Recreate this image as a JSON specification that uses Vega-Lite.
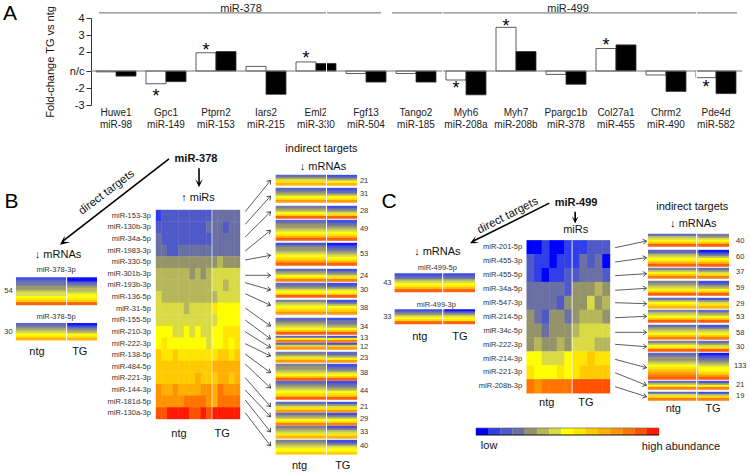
{"$schema":"https://vega.github.io/schema/vega-lite/v6.json","padding":0,"spacing":0,"bounds":"flush","config":{"font":"Liberation Sans","view":{"stroke":null},"axis":{"grid":false},"legend":{"disable":true}},
"datasets":{
"one":[{"k":1}],
"cols":[{"c":"n","a":0,"b":10},{"c":"T","a":10,"b":16}],
"bars":[{"g":"Huwe1|miR-98","s":"ntg","v":-0.1},{"g":"Huwe1|miR-98","s":"TG","v":-0.6},{"g":"Gpc1|miR-149","s":"ntg","v":-1.5},{"g":"Gpc1|miR-149","s":"TG","v":-1.25},{"g":"Ptprn2|miR-153","s":"ntg","v":1.87},{"g":"Ptprn2|miR-153","s":"TG","v":2},{"g":"Iars2|miR-215","s":"ntg","v":0.47},{"g":"Iars2|miR-215","s":"TG","v":-2.37},{"g":"Eml2|miR-330","s":"ntg","v":0.93},{"g":"Eml2|miR-330","s":"TG","v":0.77},{"g":"Fgf13|miR-504","s":"ntg","v":-0.3},{"g":"Fgf13|miR-504","s":"TG","v":-1.3},{"g":"Tango2|miR-185","s":"ntg","v":-0.3},{"g":"Tango2|miR-185","s":"TG","v":-1.3},{"g":"Myh6|miR-208a","s":"ntg","v":-1.06},{"g":"Myh6|miR-208a","s":"TG","v":-2.4},{"g":"Myh7|miR-208b","s":"ntg","v":3.45},{"g":"Myh7|miR-208b","s":"TG","v":2},{"g":"Ppargc1b|miR-378","s":"ntg","v":-0.4},{"g":"Ppargc1b|miR-378","s":"TG","v":-1.56},{"g":"Col27a1|miR-455","s":"ntg","v":2.18},{"g":"Col27a1|miR-455","s":"TG","v":2.4},{"g":"Chrm2|miR-490","s":"ntg","v":-0.47},{"g":"Chrm2|miR-490","s":"TG","v":-2.2},{"g":"Pde4d|miR-582","s":"ntg","v":-0.78},{"g":"Pde4d|miR-582","s":"TG","v":-2.33}],
"stars":[{"g":"Gpc1|miR-149","y":-2.35},{"g":"Ptprn2|miR-153","y":2.25},{"g":"Eml2|miR-330","y":1.57},{"g":"Myh6|miR-208a","y":-1.76},{"g":"Myh7|miR-208b","y":3.7},{"g":"Col27a1|miR-455","y":2.54},{"g":"Pde4d|miR-582","y":-1.53}],
"scale15":[{"v":0},{"v":1},{"v":2},{"v":3},{"v":4},{"v":5},{"v":6},{"v":7},{"v":8},{"v":9},{"v":10},{"v":11},{"v":12},{"v":13},{"v":14}],
"bl":[{"r":0,"c":"n","v":1},{"r":1,"c":"n","v":2},{"r":2,"c":"n","v":3},{"r":3,"c":"n","v":3},{"r":4,"c":"n","v":4},{"r":5,"c":"n","v":4},{"r":6,"c":"n","v":5},{"r":7,"c":"n","v":6},{"r":8,"c":"n","v":6},{"r":9,"c":"n","v":7},{"r":10,"c":"n","v":8},{"r":11,"c":"n","v":9},{"r":12,"c":"n","v":13},{"r":0,"c":"T","v":0},{"r":1,"c":"T","v":0},{"r":2,"c":"T","v":2},{"r":3,"c":"T","v":3},{"r":4,"c":"T","v":4},{"r":5,"c":"T","v":5},{"r":6,"c":"T","v":5},{"r":7,"c":"T","v":6},{"r":8,"c":"T","v":7},{"r":9,"c":"T","v":7},{"r":10,"c":"T","v":8},{"r":11,"c":"T","v":9},{"r":12,"c":"T","v":13},{"r":22,"c":"n","v":2},{"r":23,"c":"n","v":3},{"r":24,"c":"n","v":4},{"r":25,"c":"n","v":5},{"r":26,"c":"n","v":6},{"r":27,"c":"n","v":7},{"r":28,"c":"n","v":8},{"r":29,"c":"n","v":10},{"r":22,"c":"T","v":0},{"r":23,"c":"T","v":1},{"r":24,"c":"T","v":3},{"r":25,"c":"T","v":4},{"r":26,"c":"T","v":5},{"r":27,"c":"T","v":7},{"r":28,"c":"T","v":8},{"r":29,"c":"T","v":10}],
"cl":[{"r":0,"c":"n","v":1},{"r":1,"c":"n","v":2},{"r":2,"c":"n","v":3},{"r":3,"c":"n","v":5},{"r":4,"c":"n","v":6},{"r":5,"c":"n","v":7},{"r":6,"c":"n","v":8},{"r":7,"c":"n","v":10},{"r":8,"c":"n","v":13},{"r":0,"c":"T","v":1},{"r":1,"c":"T","v":2},{"r":2,"c":"T","v":3},{"r":3,"c":"T","v":5},{"r":4,"c":"T","v":6},{"r":5,"c":"T","v":7},{"r":6,"c":"T","v":8},{"r":7,"c":"T","v":10},{"r":8,"c":"T","v":13},{"r":18,"c":"n","v":1},{"r":19,"c":"n","v":3},{"r":20,"c":"n","v":4},{"r":21,"c":"n","v":6},{"r":22,"c":"n","v":7},{"r":23,"c":"n","v":9},{"r":24,"c":"n","v":13},{"r":18,"c":"T","v":0},{"r":19,"c":"T","v":2},{"r":20,"c":"T","v":4},{"r":21,"c":"T","v":6},{"r":22,"c":"T","v":7},{"r":23,"c":"T","v":8},{"r":24,"c":"T","v":13}],
"br":[{"r":0,"c":"n","v":2},{"r":1,"c":"n","v":4},{"r":2,"c":"n","v":6},{"r":3,"c":"n","v":8},{"r":4,"c":"n","v":10},{"r":0,"c":"T","v":1},{"r":1,"c":"T","v":3},{"r":2,"c":"T","v":5},{"r":3,"c":"T","v":7},{"r":4,"c":"T","v":10},
{"r":6.5,"c":"n","v":2},{"r":7.5,"c":"n","v":3},{"r":8.5,"c":"n","v":4},{"r":9.5,"c":"n","v":5},{"r":10.5,"c":"n","v":7},{"r":11.5,"c":"n","v":8},{"r":12.5,"c":"n","v":11},{"r":6.5,"c":"T","v":1},{"r":7.5,"c":"T","v":2},{"r":8.5,"c":"T","v":3},{"r":9.5,"c":"T","v":5},{"r":10.5,"c":"T","v":7},{"r":11.5,"c":"T","v":8},{"r":12.5,"c":"T","v":11},
{"r":15.5,"c":"n","v":3},{"r":16.5,"c":"n","v":4},{"r":17.5,"c":"n","v":5},{"r":18.5,"c":"n","v":7},{"r":19.5,"c":"n","v":8},{"r":20.5,"c":"n","v":13},{"r":15.5,"c":"T","v":1},{"r":16.5,"c":"T","v":3},{"r":17.5,"c":"T","v":4},{"r":18.5,"c":"T","v":6},{"r":19.5,"c":"T","v":8},{"r":20.5,"c":"T","v":13},
{"r":22.5,"c":"n","v":2},{"r":23.5,"c":"n","v":3},{"r":24.5,"c":"n","v":4},{"r":25.5,"c":"n","v":4},{"r":26.5,"c":"n","v":5},{"r":27.5,"c":"n","v":6},{"r":28.5,"c":"n","v":7},{"r":29.5,"c":"n","v":8},{"r":30.5,"c":"n","v":10},{"r":31.5,"c":"n","v":13},{"r":22.5,"c":"T","v":1},{"r":23.5,"c":"T","v":2},{"r":24.5,"c":"T","v":3},{"r":25.5,"c":"T","v":4},{"r":26.5,"c":"T","v":5},{"r":27.5,"c":"T","v":6},{"r":28.5,"c":"T","v":7},{"r":29.5,"c":"T","v":8},{"r":30.5,"c":"T","v":10},{"r":31.5,"c":"T","v":13},
{"r":34,"c":"n","v":1},{"r":35,"c":"n","v":3},{"r":36,"c":"n","v":4},{"r":37,"c":"n","v":4},{"r":38,"c":"n","v":5},{"r":39,"c":"n","v":6},{"r":40,"c":"n","v":7},{"r":41,"c":"n","v":8},{"r":42,"c":"n","v":9},{"r":43,"c":"n","v":11},{"r":44,"c":"n","v":13},{"r":34,"c":"T","v":0},{"r":35,"c":"T","v":1},{"r":36,"c":"T","v":2},{"r":37,"c":"T","v":3},{"r":38,"c":"T","v":4},{"r":39,"c":"T","v":5},{"r":40,"c":"T","v":6},{"r":41,"c":"T","v":7},{"r":42,"c":"T","v":8},{"r":43,"c":"T","v":10},{"r":44,"c":"T","v":13},
{"r":47,"c":"n","v":2},{"r":48,"c":"n","v":4},{"r":49,"c":"n","v":5},{"r":50,"c":"n","v":7},{"r":51,"c":"n","v":8},{"r":52,"c":"n","v":12},{"r":47,"c":"T","v":1},{"r":48,"c":"T","v":3},{"r":49,"c":"T","v":4},{"r":50,"c":"T","v":6},{"r":51,"c":"T","v":8},{"r":52,"c":"T","v":12},
{"r":54,"c":"n","v":2},{"r":55,"c":"n","v":3},{"r":56,"c":"n","v":4},{"r":57,"c":"n","v":6},{"r":58,"c":"n","v":7},{"r":59,"c":"n","v":8},{"r":60,"c":"n","v":13},{"r":54,"c":"T","v":1},{"r":55,"c":"T","v":2},{"r":56,"c":"T","v":4},{"r":57,"c":"T","v":6},{"r":58,"c":"T","v":7},{"r":59,"c":"T","v":8},{"r":60,"c":"T","v":13},
{"r":62.5,"c":"n","v":3},{"r":63.5,"c":"n","v":5},{"r":64.5,"c":"n","v":6},{"r":65.5,"c":"n","v":7},{"r":66.5,"c":"n","v":8},{"r":67.5,"c":"n","v":9},{"r":68.5,"c":"n","v":11},{"r":62.5,"c":"T","v":1},{"r":63.5,"c":"T","v":3},{"r":64.5,"c":"T","v":5},{"r":65.5,"c":"T","v":7},{"r":66.5,"c":"T","v":8},{"r":67.5,"c":"T","v":9},{"r":68.5,"c":"T","v":11},
{"r":71.5,"c":"n","v":2},{"r":72.5,"c":"n","v":3},{"r":73.5,"c":"n","v":4},{"r":74.5,"c":"n","v":5},{"r":75.5,"c":"n","v":6},{"r":76.5,"c":"n","v":7},{"r":77.5,"c":"n","v":9},{"r":78.5,"c":"n","v":13},{"r":71.5,"c":"T","v":1},{"r":72.5,"c":"T","v":3},{"r":73.5,"c":"T","v":3},{"r":74.5,"c":"T","v":4},{"r":75.5,"c":"T","v":5},{"r":76.5,"c":"T","v":7},{"r":77.5,"c":"T","v":9},{"r":78.5,"c":"T","v":13},
{"r":80.5,"c":"n","v":2},{"r":81.5,"c":"n","v":7},{"r":82.5,"c":"n","v":12},{"r":80.5,"c":"T","v":1},{"r":81.5,"c":"T","v":7},{"r":82.5,"c":"T","v":12},
{"r":84,"c":"n","v":2},{"r":85,"c":"n","v":6},{"r":86,"c":"n","v":11},{"r":84,"c":"T","v":1},{"r":85,"c":"T","v":6},{"r":86,"c":"T","v":11},
{"r":88.5,"c":"n","v":3},{"r":89.5,"c":"n","v":4},{"r":90.5,"c":"n","v":6},{"r":91.5,"c":"n","v":8},{"r":92.5,"c":"n","v":11},{"r":88.5,"c":"T","v":2},{"r":89.5,"c":"T","v":3},{"r":90.5,"c":"T","v":5},{"r":91.5,"c":"T","v":7},{"r":92.5,"c":"T","v":11},
{"r":94.5,"c":"n","v":3},{"r":95.5,"c":"n","v":4},{"r":96.5,"c":"n","v":4},{"r":97.5,"c":"n","v":5},{"r":98.5,"c":"n","v":6},{"r":99.5,"c":"n","v":7},{"r":100.5,"c":"n","v":9},{"r":101.5,"c":"n","v":13},{"r":94.5,"c":"T","v":1},{"r":95.5,"c":"T","v":2},{"r":96.5,"c":"T","v":3},{"r":97.5,"c":"T","v":4},{"r":98.5,"c":"T","v":6},{"r":99.5,"c":"T","v":7},{"r":100.5,"c":"T","v":9},{"r":101.5,"c":"T","v":13},
{"r":103,"c":"n","v":2},{"r":104,"c":"n","v":3},{"r":105,"c":"n","v":4},{"r":106,"c":"n","v":5},{"r":107,"c":"n","v":6},{"r":108,"c":"n","v":7},{"r":109,"c":"n","v":8},{"r":110,"c":"n","v":9},{"r":111,"c":"n","v":13},{"r":103,"c":"T","v":1},{"r":104,"c":"T","v":2},{"r":105,"c":"T","v":3},{"r":106,"c":"T","v":4},{"r":107,"c":"T","v":5},{"r":108,"c":"T","v":7},{"r":109,"c":"T","v":8},{"r":110,"c":"T","v":9},{"r":111,"c":"T","v":13},
{"r":113.5,"c":"n","v":2},{"r":114.5,"c":"n","v":4},{"r":115.5,"c":"n","v":6},{"r":116.5,"c":"n","v":8},{"r":117.5,"c":"n","v":11},{"r":113.5,"c":"T","v":1},{"r":114.5,"c":"T","v":4},{"r":115.5,"c":"T","v":6},{"r":116.5,"c":"T","v":8},{"r":117.5,"c":"T","v":11},
{"r":119,"c":"n","v":2},{"r":120,"c":"n","v":4},{"r":121,"c":"n","v":5},{"r":122,"c":"n","v":7},{"r":123,"c":"n","v":8},{"r":124,"c":"n","v":12},{"r":119,"c":"T","v":1},{"r":120,"c":"T","v":3},{"r":121,"c":"T","v":5},{"r":122,"c":"T","v":7},{"r":123,"c":"T","v":8},{"r":124,"c":"T","v":12},
{"r":125.5,"c":"n","v":3},{"r":126.5,"c":"n","v":4},{"r":127.5,"c":"n","v":5},{"r":128.5,"c":"n","v":6},{"r":129.5,"c":"n","v":8},{"r":130.5,"c":"n","v":10},{"r":125.5,"c":"T","v":1},{"r":126.5,"c":"T","v":3},{"r":127.5,"c":"T","v":5},{"r":128.5,"c":"T","v":6},{"r":129.5,"c":"T","v":8},{"r":130.5,"c":"T","v":10},
{"r":132.5,"c":"n","v":3},{"r":133.5,"c":"n","v":4},{"r":134.5,"c":"n","v":5},{"r":135.5,"c":"n","v":6},{"r":136.5,"c":"n","v":7},{"r":137.5,"c":"n","v":7},{"r":138.5,"c":"n","v":9},{"r":132.5,"c":"T","v":1},{"r":133.5,"c":"T","v":2},{"r":134.5,"c":"T","v":4},{"r":135.5,"c":"T","v":6},{"r":136.5,"c":"T","v":7},{"r":137.5,"c":"T","v":7},{"r":138.5,"c":"T","v":9}],
"cr":[{"r":0,"c":"n","v":2},{"r":1,"c":"n","v":5},{"r":2,"c":"n","v":6},{"r":3,"c":"n","v":7},{"r":4,"c":"n","v":9},{"r":5,"c":"n","v":13},{"r":0,"c":"T","v":3},{"r":1,"c":"T","v":4},{"r":2,"c":"T","v":6},{"r":3,"c":"T","v":7},{"r":4,"c":"T","v":9},{"r":5,"c":"T","v":13},
{"r":8,"c":"n","v":2},{"r":9,"c":"n","v":3},{"r":10,"c":"n","v":5},{"r":11,"c":"n","v":6},{"r":12,"c":"n","v":7},{"r":13,"c":"n","v":8},{"r":14,"c":"n","v":10},{"r":15,"c":"n","v":13},{"r":8,"c":"T","v":0},{"r":9,"c":"T","v":1},{"r":10,"c":"T","v":3},{"r":11,"c":"T","v":5},{"r":12,"c":"T","v":7},{"r":13,"c":"T","v":8},{"r":14,"c":"T","v":10},{"r":15,"c":"T","v":13},
{"r":17,"c":"n","v":3},{"r":18,"c":"n","v":5},{"r":19,"c":"n","v":7},{"r":20,"c":"n","v":9},{"r":21,"c":"n","v":12},{"r":17,"c":"T","v":2},{"r":18,"c":"T","v":4},{"r":19,"c":"T","v":6},{"r":20,"c":"T","v":8},{"r":21,"c":"T","v":12},
{"r":23.5,"c":"n","v":3},{"r":24.5,"c":"n","v":4},{"r":25.5,"c":"n","v":5},{"r":26.5,"c":"n","v":6},{"r":27.5,"c":"n","v":7},{"r":28.5,"c":"n","v":9},{"r":29.5,"c":"n","v":13},{"r":23.5,"c":"T","v":1},{"r":24.5,"c":"T","v":2},{"r":25.5,"c":"T","v":4},{"r":26.5,"c":"T","v":5},{"r":27.5,"c":"T","v":7},{"r":28.5,"c":"T","v":9},{"r":29.5,"c":"T","v":13},
{"r":32,"c":"n","v":2},{"r":33,"c":"n","v":5},{"r":34,"c":"n","v":7},{"r":35,"c":"n","v":8},{"r":36,"c":"n","v":10},{"r":32,"c":"T","v":1},{"r":33,"c":"T","v":4},{"r":34,"c":"T","v":6},{"r":35,"c":"T","v":8},{"r":36,"c":"T","v":10},
{"r":38,"c":"n","v":3},{"r":39,"c":"n","v":5},{"r":40,"c":"n","v":6},{"r":41,"c":"n","v":7},{"r":42,"c":"n","v":9},{"r":43,"c":"n","v":13},{"r":38,"c":"T","v":2},{"r":39,"c":"T","v":4},{"r":40,"c":"T","v":5},{"r":41,"c":"T","v":7},{"r":42,"c":"T","v":9},{"r":43,"c":"T","v":13},
{"r":45.5,"c":"n","v":2},{"r":46.5,"c":"n","v":4},{"r":47.5,"c":"n","v":5},{"r":48.5,"c":"n","v":6},{"r":49.5,"c":"n","v":7},{"r":50.5,"c":"n","v":9},{"r":51.5,"c":"n","v":12},{"r":45.5,"c":"T","v":1},{"r":46.5,"c":"T","v":3},{"r":47.5,"c":"T","v":5},{"r":48.5,"c":"T","v":6},{"r":49.5,"c":"T","v":7},{"r":50.5,"c":"T","v":9},{"r":51.5,"c":"T","v":12},
{"r":53.5,"c":"n","v":3},{"r":54.5,"c":"n","v":5},{"r":55.5,"c":"n","v":7},{"r":56.5,"c":"n","v":8},{"r":57.5,"c":"n","v":13},{"r":53.5,"c":"T","v":2},{"r":54.5,"c":"T","v":4},{"r":55.5,"c":"T","v":6},{"r":56.5,"c":"T","v":8},{"r":57.5,"c":"T","v":13},
{"r":59.5,"c":"n","v":2},{"r":60.5,"c":"n","v":3},{"r":61.5,"c":"n","v":4},{"r":62.5,"c":"n","v":4},{"r":63.5,"c":"n","v":5},{"r":64.5,"c":"n","v":6},{"r":65.5,"c":"n","v":7},{"r":66.5,"c":"n","v":8},{"r":67.5,"c":"n","v":9},{"r":68.5,"c":"n","v":10},{"r":69.5,"c":"n","v":11},{"r":70.5,"c":"n","v":12},{"r":71.5,"c":"n","v":13},{"r":59.5,"c":"T","v":0},{"r":60.5,"c":"T","v":1},{"r":61.5,"c":"T","v":2},{"r":62.5,"c":"T","v":3},{"r":63.5,"c":"T","v":4},{"r":64.5,"c":"T","v":5},{"r":65.5,"c":"T","v":6},{"r":66.5,"c":"T","v":7},{"r":67.5,"c":"T","v":7},{"r":68.5,"c":"T","v":8},{"r":69.5,"c":"T","v":9},{"r":70.5,"c":"T","v":11},{"r":71.5,"c":"T","v":13},
{"r":73.5,"c":"n","v":2},{"r":74.5,"c":"n","v":5},{"r":75.5,"c":"n","v":7},{"r":76.5,"c":"n","v":12},{"r":73.5,"c":"T","v":1},{"r":74.5,"c":"T","v":4},{"r":75.5,"c":"T","v":7},{"r":76.5,"c":"T","v":12},
{"r":79,"c":"n","v":2},{"r":80,"c":"n","v":6},{"r":81,"c":"n","v":8},{"r":82,"c":"n","v":12},{"r":79,"c":"T","v":1},{"r":80,"c":"T","v":5},{"r":81,"c":"T","v":8},{"r":82,"c":"T","v":12}],
"bm":[{"m":0,"i":0,"v":1},{"m":0,"i":1,"v":2},{"m":0,"i":2,"v":2},{"m":0,"i":3,"v":2},{"m":0,"i":4,"v":2},{"m":0,"i":5,"v":2},{"m":0,"i":6,"v":2},{"m":0,"i":7,"v":2},{"m":0,"i":8,"v":2},{"m":0,"i":9,"v":2},{"m":0,"i":10,"v":3},{"m":0,"i":11,"v":3},{"m":0,"i":12,"v":3},{"m":0,"i":13,"v":3},{"m":0,"i":14,"v":3},
{"m":1,"i":0,"v":2},{"m":1,"i":1,"v":2},{"m":1,"i":2,"v":2},{"m":1,"i":3,"v":2},{"m":1,"i":4,"v":2},{"m":1,"i":5,"v":2},{"m":1,"i":6,"v":2},{"m":1,"i":7,"v":2},{"m":1,"i":8,"v":2},{"m":1,"i":9,"v":3},{"m":1,"i":10,"v":3},{"m":1,"i":11,"v":3},{"m":1,"i":12,"v":2},{"m":1,"i":13,"v":3},{"m":1,"i":14,"v":3},
{"m":2,"i":0,"v":3},{"m":2,"i":1,"v":2},{"m":2,"i":2,"v":2},{"m":2,"i":3,"v":2},{"m":2,"i":4,"v":2},{"m":2,"i":5,"v":2},{"m":2,"i":6,"v":2},{"m":2,"i":7,"v":2},{"m":2,"i":8,"v":2},{"m":2,"i":9,"v":2},{"m":2,"i":10,"v":3},{"m":2,"i":11,"v":3},{"m":2,"i":12,"v":3},{"m":2,"i":13,"v":3},{"m":2,"i":14,"v":3},
{"m":3,"i":0,"v":3},{"m":3,"i":1,"v":3},{"m":3,"i":2,"v":2},{"m":3,"i":3,"v":2},{"m":3,"i":4,"v":3},{"m":3,"i":5,"v":3},{"m":3,"i":6,"v":3},{"m":3,"i":7,"v":3},{"m":3,"i":8,"v":3},{"m":3,"i":9,"v":3},{"m":3,"i":10,"v":3},{"m":3,"i":11,"v":3},{"m":3,"i":12,"v":3},{"m":3,"i":13,"v":3},{"m":3,"i":14,"v":3},
{"m":4,"i":0,"v":4},{"m":4,"i":1,"v":4},{"m":4,"i":2,"v":4},{"m":4,"i":3,"v":4},{"m":4,"i":4,"v":4},{"m":4,"i":5,"v":4},{"m":4,"i":6,"v":4},{"m":4,"i":7,"v":4},{"m":4,"i":8,"v":4},{"m":4,"i":9,"v":4},{"m":4,"i":10,"v":4},{"m":4,"i":11,"v":5},{"m":4,"i":12,"v":4},{"m":4,"i":13,"v":4},{"m":4,"i":14,"v":4},
{"m":5,"i":0,"v":5},{"m":5,"i":1,"v":5},{"m":5,"i":2,"v":5},{"m":5,"i":3,"v":5},{"m":5,"i":4,"v":5},{"m":5,"i":5,"v":5},{"m":5,"i":6,"v":4},{"m":5,"i":7,"v":5},{"m":5,"i":8,"v":4},{"m":5,"i":9,"v":5},{"m":5,"i":10,"v":6},{"m":5,"i":11,"v":6},{"m":5,"i":12,"v":6},{"m":5,"i":13,"v":6},{"m":5,"i":14,"v":6},
{"m":6,"i":0,"v":5},{"m":6,"i":1,"v":5},{"m":6,"i":2,"v":5},{"m":6,"i":3,"v":5},{"m":6,"i":4,"v":5},{"m":6,"i":5,"v":5},{"m":6,"i":6,"v":5},{"m":6,"i":7,"v":5},{"m":6,"i":8,"v":5},{"m":6,"i":9,"v":5},{"m":6,"i":10,"v":6},{"m":6,"i":11,"v":6},{"m":6,"i":12,"v":5},{"m":6,"i":13,"v":6},{"m":6,"i":14,"v":6},
{"m":7,"i":0,"v":6},{"m":7,"i":1,"v":5},{"m":7,"i":2,"v":5},{"m":7,"i":3,"v":5},{"m":7,"i":4,"v":5},{"m":7,"i":5,"v":5},{"m":7,"i":6,"v":5},{"m":7,"i":7,"v":5},{"m":7,"i":8,"v":5},{"m":7,"i":9,"v":5},{"m":7,"i":10,"v":5},{"m":7,"i":11,"v":6},{"m":7,"i":12,"v":6},{"m":7,"i":13,"v":6},{"m":7,"i":14,"v":6},
{"m":8,"i":0,"v":6},{"m":8,"i":1,"v":6},{"m":8,"i":2,"v":6},{"m":8,"i":3,"v":6},{"m":8,"i":4,"v":6},{"m":8,"i":5,"v":5},{"m":8,"i":6,"v":6},{"m":8,"i":7,"v":6},{"m":8,"i":8,"v":6},{"m":8,"i":9,"v":6},{"m":8,"i":10,"v":8},{"m":8,"i":11,"v":7},{"m":8,"i":12,"v":7},{"m":8,"i":13,"v":7},{"m":8,"i":14,"v":7},
{"m":9,"i":0,"v":6},{"m":9,"i":1,"v":6},{"m":9,"i":2,"v":6},{"m":9,"i":3,"v":6},{"m":9,"i":4,"v":6},{"m":9,"i":5,"v":6},{"m":9,"i":6,"v":6},{"m":9,"i":7,"v":6},{"m":9,"i":8,"v":6},{"m":9,"i":9,"v":6},{"m":9,"i":10,"v":6},{"m":9,"i":11,"v":7},{"m":9,"i":12,"v":7},{"m":9,"i":13,"v":7},{"m":9,"i":14,"v":7},
{"m":10,"i":0,"v":7},{"m":10,"i":1,"v":7},{"m":10,"i":2,"v":7},{"m":10,"i":3,"v":6},{"m":10,"i":4,"v":6},{"m":10,"i":5,"v":7},{"m":10,"i":6,"v":6},{"m":10,"i":7,"v":7},{"m":10,"i":8,"v":6},{"m":10,"i":9,"v":6},{"m":10,"i":10,"v":7},{"m":10,"i":11,"v":7},{"m":10,"i":12,"v":8},{"m":10,"i":13,"v":8},{"m":10,"i":14,"v":8},
{"m":11,"i":0,"v":7},{"m":11,"i":1,"v":8},{"m":11,"i":2,"v":7},{"m":11,"i":3,"v":7},{"m":11,"i":4,"v":7},{"m":11,"i":5,"v":7},{"m":11,"i":6,"v":7},{"m":11,"i":7,"v":7},{"m":11,"i":8,"v":7},{"m":11,"i":9,"v":6},{"m":11,"i":10,"v":7},{"m":11,"i":11,"v":7},{"m":11,"i":12,"v":8},{"m":11,"i":13,"v":7},{"m":11,"i":14,"v":8},
{"m":12,"i":0,"v":9},{"m":12,"i":1,"v":8},{"m":12,"i":2,"v":8},{"m":12,"i":3,"v":9},{"m":12,"i":4,"v":8},{"m":12,"i":5,"v":8},{"m":12,"i":6,"v":8},{"m":12,"i":7,"v":8},{"m":12,"i":8,"v":8},{"m":12,"i":9,"v":8},{"m":12,"i":10,"v":8},{"m":12,"i":11,"v":9},{"m":12,"i":12,"v":9},{"m":12,"i":13,"v":8},{"m":12,"i":14,"v":9},
{"m":13,"i":0,"v":9},{"m":13,"i":1,"v":9},{"m":13,"i":2,"v":9},{"m":13,"i":3,"v":9},{"m":13,"i":4,"v":9},{"m":13,"i":5,"v":9},{"m":13,"i":6,"v":9},{"m":13,"i":7,"v":9},{"m":13,"i":8,"v":9},{"m":13,"i":9,"v":9},{"m":13,"i":10,"v":10},{"m":13,"i":11,"v":10},{"m":13,"i":12,"v":10},{"m":13,"i":13,"v":10},{"m":13,"i":14,"v":10},
{"m":14,"i":0,"v":9},{"m":14,"i":1,"v":9},{"m":14,"i":2,"v":9},{"m":14,"i":3,"v":9},{"m":14,"i":4,"v":9},{"m":14,"i":5,"v":9},{"m":14,"i":6,"v":9},{"m":14,"i":7,"v":10},{"m":14,"i":8,"v":9},{"m":14,"i":9,"v":9},{"m":14,"i":10,"v":9},{"m":14,"i":11,"v":10},{"m":14,"i":12,"v":10},{"m":14,"i":13,"v":9},{"m":14,"i":14,"v":10},
{"m":15,"i":0,"v":11},{"m":15,"i":1,"v":10},{"m":15,"i":2,"v":10},{"m":15,"i":3,"v":11},{"m":15,"i":4,"v":10},{"m":15,"i":5,"v":10},{"m":15,"i":6,"v":10},{"m":15,"i":7,"v":10},{"m":15,"i":8,"v":11},{"m":15,"i":9,"v":11},{"m":15,"i":10,"v":10},{"m":15,"i":11,"v":12},{"m":15,"i":12,"v":11},{"m":15,"i":13,"v":11},{"m":15,"i":14,"v":11},
{"m":16,"i":0,"v":11},{"m":16,"i":1,"v":11},{"m":16,"i":2,"v":11},{"m":16,"i":3,"v":11},{"m":16,"i":4,"v":11},{"m":16,"i":5,"v":12},{"m":16,"i":6,"v":12},{"m":16,"i":7,"v":12},{"m":16,"i":8,"v":12},{"m":16,"i":9,"v":11},{"m":16,"i":10,"v":10},{"m":16,"i":11,"v":12},{"m":16,"i":12,"v":12},{"m":16,"i":13,"v":12},{"m":16,"i":14,"v":12},
{"m":17,"i":0,"v":13},{"m":17,"i":1,"v":13},{"m":17,"i":2,"v":14},{"m":17,"i":3,"v":14},{"m":17,"i":4,"v":14},{"m":17,"i":5,"v":14},{"m":17,"i":6,"v":13},{"m":17,"i":7,"v":13},{"m":17,"i":8,"v":14},{"m":17,"i":9,"v":13},{"m":17,"i":10,"v":14},{"m":17,"i":11,"v":14},{"m":17,"i":12,"v":14},{"m":17,"i":13,"v":14},{"m":17,"i":14,"v":14}],
"cm":[{"m":0,"i":0,"v":0},{"m":0,"i":1,"v":0},{"m":0,"i":2,"v":1},{"m":0,"i":3,"v":0},{"m":0,"i":4,"v":0},{"m":0,"i":5,"v":1},{"m":0,"i":6,"v":1},{"m":0,"i":7,"v":1},{"m":0,"i":8,"v":2},{"m":0,"i":9,"v":2},{"m":0,"i":10,"v":2},
{"m":1,"i":0,"v":2},{"m":1,"i":1,"v":1},{"m":1,"i":2,"v":1},{"m":1,"i":3,"v":0},{"m":1,"i":4,"v":1},{"m":1,"i":5,"v":1},{"m":1,"i":6,"v":1},{"m":1,"i":7,"v":3},{"m":1,"i":8,"v":2},{"m":1,"i":9,"v":3},{"m":1,"i":10,"v":0},
{"m":2,"i":0,"v":2},{"m":2,"i":1,"v":1},{"m":2,"i":2,"v":0},{"m":2,"i":3,"v":1},{"m":2,"i":4,"v":1},{"m":2,"i":5,"v":2},{"m":2,"i":6,"v":2},{"m":2,"i":7,"v":3},{"m":2,"i":8,"v":3},{"m":2,"i":9,"v":3},{"m":2,"i":10,"v":2},
{"m":3,"i":0,"v":3},{"m":3,"i":1,"v":3},{"m":3,"i":2,"v":3},{"m":3,"i":3,"v":3},{"m":3,"i":4,"v":3},{"m":3,"i":5,"v":2},{"m":3,"i":6,"v":4},{"m":3,"i":7,"v":4},{"m":3,"i":8,"v":4},{"m":3,"i":9,"v":5},{"m":3,"i":10,"v":4},
{"m":4,"i":0,"v":3},{"m":4,"i":1,"v":3},{"m":4,"i":2,"v":3},{"m":4,"i":3,"v":3},{"m":4,"i":4,"v":2},{"m":4,"i":5,"v":4},{"m":4,"i":6,"v":4},{"m":4,"i":7,"v":4},{"m":4,"i":8,"v":6},{"m":4,"i":9,"v":4},{"m":4,"i":10,"v":5},
{"m":5,"i":0,"v":4},{"m":5,"i":1,"v":3},{"m":5,"i":2,"v":2},{"m":5,"i":3,"v":4},{"m":5,"i":4,"v":4},{"m":5,"i":5,"v":3},{"m":5,"i":6,"v":4},{"m":5,"i":7,"v":5},{"m":5,"i":8,"v":5},{"m":5,"i":9,"v":5},{"m":5,"i":10,"v":4},
{"m":6,"i":0,"v":4},{"m":6,"i":1,"v":4},{"m":6,"i":2,"v":3},{"m":6,"i":3,"v":4},{"m":6,"i":4,"v":4},{"m":6,"i":5,"v":4},{"m":6,"i":6,"v":5},{"m":6,"i":7,"v":6},{"m":6,"i":8,"v":6},{"m":6,"i":9,"v":6},{"m":6,"i":10,"v":6},
{"m":7,"i":0,"v":4},{"m":7,"i":1,"v":5},{"m":7,"i":2,"v":4},{"m":7,"i":3,"v":4},{"m":7,"i":4,"v":5},{"m":7,"i":5,"v":4},{"m":7,"i":6,"v":6},{"m":7,"i":7,"v":6},{"m":7,"i":8,"v":6},{"m":7,"i":9,"v":5},{"m":7,"i":10,"v":5},
{"m":8,"i":0,"v":7},{"m":8,"i":1,"v":7},{"m":8,"i":2,"v":6},{"m":8,"i":3,"v":6},{"m":8,"i":4,"v":6},{"m":8,"i":5,"v":7},{"m":8,"i":6,"v":8},{"m":8,"i":7,"v":8},{"m":8,"i":8,"v":9},{"m":8,"i":9,"v":8},{"m":8,"i":10,"v":8},
{"m":9,"i":0,"v":8},{"m":9,"i":1,"v":7},{"m":9,"i":2,"v":7},{"m":9,"i":3,"v":7},{"m":9,"i":4,"v":8},{"m":9,"i":5,"v":7},{"m":9,"i":6,"v":8},{"m":9,"i":7,"v":9},{"m":9,"i":8,"v":9},{"m":9,"i":9,"v":9},{"m":9,"i":10,"v":9},
{"m":10,"i":0,"v":12},{"m":10,"i":1,"v":11},{"m":10,"i":2,"v":12},{"m":10,"i":3,"v":12},{"m":10,"i":4,"v":12},{"m":10,"i":5,"v":12},{"m":10,"i":6,"v":13},{"m":10,"i":7,"v":13},{"m":10,"i":8,"v":13},{"m":10,"i":9,"v":13},{"m":10,"i":10,"v":13}]
},
"hconcat":[
{"width":1,"height":473,"layer":[
{"data":{"name":"bars"},"mark":{"type":"bar","stroke":"#333","strokeWidth":0.8},"encoding":{"x":{"field":"g","type":"nominal","sort":null,"scale":{"domain":["Huwe1|miR-98","Gpc1|miR-149","Ptprn2|miR-153","Iars2|miR-215","Eml2|miR-330","Fgf13|miR-504","Tango2|miR-185","Myh6|miR-208a","Myh7|miR-208b","Ppargc1b|miR-378","Col27a1|miR-455","Chrm2|miR-490","Pde4d|miR-582"],"range":[91,741],"paddingInner":0.2,"paddingOuter":0.1},"axis":{"title":null,"orient":"bottom","offset":-369,"domain":false,"ticks":false,"labelAngle":0,"labelExpr":"split(datum.label,'|')","labelFontSize":10,"labelLineHeight":12,"labelColor":"#222","labelPadding":2,"labelOverlap":false,"labelLimit":200}},"xOffset":{"field":"s","type":"nominal","sort":null,"scale":{"domain":["ntg","TG"],"paddingInner":0,"paddingOuter":0}},"y":{"field":"v","type":"quantitative","scale":{"domain":[-3,-2,0,2,3,4],"range":[104,87,70,50.5,34,17],"nice":false,"zero":false},"axis":{"title":"Fold-change TG vs ntg","titleFontWeight":"normal","titleFontSize":11,"titleColor":"#111","titlePadding":14,"offset":-91,"values":[-3,-2,0,2,3,4],"labelExpr":"datum.value==0?'n/c':''+datum.value","labelFontSize":11,"labelColor":"#111","tickSize":5,"tickColor":"#333","domainColor":"#333","grid":false,"labelOverlap":false}},"color":{"field":"s","type":"nominal","scale":{"domain":["ntg","TG"],"range":["#ffffff","#000000"]}}}},
{"data":{"name":"one"},"mark":{"type":"rule","stroke":"#777","strokeWidth":1,"xOffset":-25,"x2Offset":26},"encoding":{"x":{"datum":"Huwe1|miR-98","type":"nominal"},"x2":{"datum":"Pde4d|miR-582"},"y":{"datum":0,"type":"quantitative"}}},
{"data":{"name":"one"},"mark":{"type":"rule","stroke":"#444","strokeWidth":0.8,"xOffset":-17,"x2Offset":15},"encoding":{"x":{"datum":"Huwe1|miR-98","type":"nominal"},"x2":{"datum":"Fgf13|miR-504"},"y":{"datum":4.3,"type":"quantitative"}}},
{"data":{"name":"one"},"mark":{"type":"rule","stroke":"#444","strokeWidth":0.8,"xOffset":-24,"x2Offset":21},"encoding":{"x":{"datum":"Tango2|miR-185","type":"nominal"},"x2":{"datum":"Pde4d|miR-582"},"y":{"datum":4.3,"type":"quantitative"}}},
{"data":{"values":[{"t":"miR-378","g":"Iars2|miR-215","y":4.55}]},"mark":{"type":"text","fontSize":11,"color":"#222","xOffset":-25},"encoding":{"x":{"field":"g","type":"nominal"},"y":{"field":"y","type":"quantitative"},"text":{"field":"t"}}},
{"data":{"values":[{"t":"miR-499","g":"Ppargc1b|miR-378","y":4.55}]},"mark":{"type":"text","fontSize":11,"color":"#222","xOffset":2},"encoding":{"x":{"field":"g","type":"nominal"},"y":{"field":"y","type":"quantitative"},"text":{"field":"t"}}},
{"data":{"values":[{"t":"A","g":"Huwe1|miR-98","y":4.24}]},"mark":{"type":"text","fontSize":21,"color":"#000","xOffset":-106},"encoding":{"x":{"field":"g","type":"nominal"},"y":{"field":"y","type":"quantitative"},"text":{"field":"t"}}},
{"data":{"name":"stars"},"mark":{"type":"text","text":"*","fontSize":18,"baseline":"alphabetic","dy":8.5,"dx":-10,"color":"#000"},"encoding":{"x":{"field":"g","type":"nominal"},"y":{"field":"y","type":"quantitative"}}}
]},
{"width":1,"height":473,"layer":[
{"data":{"name":"scale15"},"mark":{"type":"rect","width":12.4},"encoding":{"x":{"field":"v","type":"quantitative","axis":null,"scale":{"domain":[0,14],"range":[481,652],"nice":false,"zero":false}},"y":{"datum":0,"type":"quantitative","axis":null,"scale":{"domain":[0,1],"range":[434,427],"nice":false,"zero":false}},"y2":{"datum":1},"color":{"field":"v","type":"quantitative","scale":{"domain":[0,3,4,7,14],"range":["#0000ff","#6a70a4","#94946a","#ffff00","#ff1a00"]}}}},
{"data":{"name":"one"},"mark":{"type":"rule","stroke":"#111","strokeWidth":1.2},"encoding":{"x":{"datum":-0.5,"type":"quantitative","axis":null},"x2":{"datum":14.5},"y":{"datum":0,"type":"quantitative","axis":null}}},
{"data":{"name":"one"},"mark":{"type":"rule","stroke":"#666","strokeWidth":0.7},"encoding":{"x":{"datum":-0.5,"type":"quantitative","axis":null},"x2":{"datum":14.5},"y":{"datum":1,"type":"quantitative","axis":null}}},
{"data":{"values":[{"t":"low","col":0.58,"row":-1.5},{"t":"high abundance","col":16.28,"row":-1.7}]},"mark":{"type":"text","fontSize":11,"color":"#111"},"encoding":{"x":{"field":"col","type":"quantitative","axis":null},"y":{"field":"row","type":"quantitative","axis":null},"text":{"field":"t"}}}
]},
{"width":95,"height":473,"layer":[
{"data":{"name":"bl"},"transform":[{"lookup":"c","from":{"data":{"name":"cols"},"key":"c","fields":["a","b"]}}],"mark":{"type":"rect","height":3,"opacity":0.92},"encoding":{"x":{"field":"a","type":"quantitative","axis":null,"scale":{"domain":[0,16],"range":[14,95],"nice":false,"zero":false}},"x2":{"field":"b"},"y":{"field":"r","type":"quantitative","axis":null,"scale":{"domain":[0,30],"range":[277.74,340.14],"nice":false,"zero":false}},"color":{"field":"v","type":"quantitative","scale":{"domain":[0,3,4,7,14],"range":["#0000ff","#6a70a4","#94946a","#ffff00","#ff1a00"]}}}},
{"data":{"name":"one"},"mark":{"type":"rule","stroke":"#fff","strokeWidth":1},"encoding":{"x":{"datum":10,"type":"quantitative","axis":null}}},
{"data":{"values":[{"t":"54","col":-1.48,"row":6},{"t":"30","col":-1.48,"row":25.6},{"t":"miR-378-3p","col":7.9,"row":-4.2},{"t":"miR-378-5p","col":7.9,"row":18.4}]},"mark":{"type":"text","fontSize":7.5,"color":"#333"},"encoding":{"x":{"field":"col","type":"quantitative","axis":null},"y":{"field":"row","type":"quantitative","axis":null},"text":{"field":"t"}}},
{"data":{"values":[{"t":"ntg","col":4.15,"row":35},{"t":"TG","col":12.6,"row":35},{"t":"↓ mRNAs","col":8.3,"row":-11.4}]},"mark":{"type":"text","fontSize":11,"color":"#111"},"encoding":{"x":{"field":"col","type":"quantitative","axis":null},"y":{"field":"row","type":"quantitative","axis":null},"text":{"field":"t"}}},
{"data":{"values":[{"t":"B","col":-0.9,"row":-36.8}]},"mark":{"type":"text","fontSize":21,"color":"#000"},"encoding":{"x":{"field":"col","type":"quantitative","axis":null},"y":{"field":"row","type":"quantitative","axis":null},"text":{"field":"t"}}}
]},
{"width":143,"height":473,"layer":[
{"data":{"name":"bm"},"mark":{"type":"rect","width":6,"height":12},"encoding":{"x":{"field":"i","type":"quantitative","axis":null,"scale":{"domain":[0,14],"range":[61.8,140.2],"nice":false,"zero":false}},"y":{"field":"m","type":"quantitative","axis":null,"scale":{"domain":[0,17],"range":[214.8,412.2],"nice":false,"zero":false}},"color":{"field":"v","type":"quantitative","scale":{"domain":[0,3,4,7,14],"range":["#0000ff","#6a70a4","#94946a","#ffff00","#ff1a00"]}}}},
{"data":{"name":"one"},"mark":{"type":"rule","stroke":"#fff","strokeWidth":1,"opacity":0.65},"encoding":{"x":{"datum":9.5,"type":"quantitative","axis":null},"y":{"datum":-0.5,"type":"quantitative","axis":null},"y2":{"datum":17.5}}},
{"data":{"values":[{"t":"miR-153-3p","m":0},{"t":"miR-130b-3p","m":1},{"t":"miR-34a-5p","m":2},{"t":"miR-1983-3p","m":3},{"t":"miR-330-5p","m":4},{"t":"miR-301b-3p","m":5},{"t":"miR-193b-3p","m":6},{"t":"miR-136-5p","m":7},{"t":"miR-31-5p","m":8},{"t":"miR-155-5p","m":9},{"t":"miR-210-3p","m":10},{"t":"miR-222-3p","m":11},{"t":"miR-138-5p","m":12},{"t":"miR-484-5p","m":13},{"t":"miR-221-3p","m":14},{"t":"miR-144-3p","m":15},{"t":"miR-181d-5p","m":16},{"t":"miR-130a-3p","m":17}]},"mark":{"type":"text","fontSize":7.5,"align":"right","color":"#333"},"encoding":{"x":{"datum":-1.4,"type":"quantitative","axis":null},"y":{"field":"m","type":"quantitative","axis":null},"text":{"field":"t"}}},
{"data":{"name":"one"},"mark":{"type":"rule","stroke":"#000","strokeWidth":1.6},"encoding":{"x":{"datum":1.82,"type":"quantitative","axis":null},"x2":{"datum":-17.2},"y":{"datum":-4.9,"type":"quantitative","axis":null},"y2":{"datum":2.2}}},
{"data":{"name":"one"},"mark":{"type":"point","shape":"M0,0L-0.55,1.2L0,0.6L0.55,1.2Z","filled":true,"color":"#000","opacity":1,"size":256,"angle":231.7},"encoding":{"x":{"datum":-17.64,"type":"quantitative","axis":null},"y":{"datum":2.5,"type":"quantitative","axis":null}}},
{"data":{"name":"one"},"mark":{"type":"rule","stroke":"#000","strokeWidth":1.6},"encoding":{"x":{"datum":7.18,"type":"quantitative","axis":null},"y":{"datum":-4.1,"type":"quantitative","axis":null},"y2":{"datum":-2.7}}},
{"data":{"name":"one"},"mark":{"type":"point","shape":"M0,0L-0.55,1.2L0,0.6L0.55,1.2Z","filled":true,"color":"#000","opacity":1,"size":196,"angle":180},"encoding":{"x":{"datum":7.18,"type":"quantitative","axis":null},"y":{"datum":-2.45,"type":"quantitative","axis":null}}},
{"data":{"values":[{"t":"miR-378","col":6.64,"row":-4.9}]},"mark":{"type":"text","fontSize":11,"fontWeight":"bold","color":"#111"},"encoding":{"x":{"field":"col","type":"quantitative","axis":null},"y":{"field":"row","type":"quantitative","axis":null},"text":{"field":"t"}}},
{"data":{"values":[{"t":"↑ miRs","col":7,"row":-1.56},{"t":"ntg","col":3.6,"row":18.8},{"t":"TG","col":11.3,"row":18.8}]},"mark":{"type":"text","fontSize":11,"color":"#111"},"encoding":{"x":{"field":"col","type":"quantitative","axis":null},"y":{"field":"row","type":"quantitative","axis":null},"text":{"field":"t"}}},
{"data":{"values":[{"t":"direct targets","col":-9.3,"row":-2}]},"mark":{"type":"text","fontSize":11.5,"angle":323,"color":"#111"},"encoding":{"x":{"field":"col","type":"quantitative","axis":null},"y":{"field":"row","type":"quantitative","axis":null},"text":{"field":"t"}}}
]},
{"width":135,"height":473,"layer":[
{"data":{"name":"br"},"transform":[{"lookup":"c","from":{"data":{"name":"cols"},"key":"c","fields":["a","b"]}}],"mark":{"type":"rect","height":3,"opacity":0.92},"encoding":{"x":{"field":"a","type":"quantitative","axis":null,"scale":{"domain":[0,16],"range":[35.7,117],"nice":false,"zero":false}},"x2":{"field":"b"},"y":{"field":"r","type":"quantitative","axis":null,"scale":{"domain":[0,140],"range":[175.3,455.3],"nice":false,"zero":false}},"color":{"field":"v","type":"quantitative","scale":{"domain":[0,3,4,7,14],"range":["#0000ff","#6a70a4","#94946a","#ffff00","#ff1a00"]}}}},
{"data":{"name":"one"},"mark":{"type":"rule","stroke":"#fff","strokeWidth":1},"encoding":{"x":{"datum":10,"type":"quantitative","axis":null}}},
{"data":{"values":[{"s":17.7,"e":2,"g":40},{"s":24,"e":9.85,"g":43},{"s":30.35,"e":17.7,"g":46},{"s":37.35,"e":27,"g":51.5},{"s":41.85,"e":39.5,"g":80},{"s":49.5,"e":49.5,"g":90},{"s":53.2,"e":56.85,"g":105.7},{"s":58.7,"e":64.5,"g":114},{"s":65.85,"e":74.85,"g":124.7},{"s":71.85,"e":81.35,"g":126},{"s":77.7,"e":85.7,"g":121.6},{"s":83.7,"e":89.85,"g":115},{"s":88.85,"e":98.2,"g":125.7},{"s":93.85,"e":105.85,"g":132.7},{"s":100.7,"e":115.2,"g":138},{"s":106.85,"e":120.2,"g":135.7},{"s":111.85,"e":127.85,"g":141},{"s":118.2,"e":134.85,"g":142}]},"layer":[
{"mark":{"type":"rule","stroke":"#333","strokeWidth":0.8},"encoding":{"x":{"datum":-6,"type":"quantitative","axis":null},"x2":{"datum":-1},"y":{"field":"s","type":"quantitative","axis":null},"y2":{"field":"e"}}},
{"mark":{"type":"point","shape":"M-0.5,0.7L0,0L0.5,0.7","filled":false,"stroke":"#333","strokeWidth":0.8,"opacity":1,"size":100},"encoding":{"x":{"datum":-1,"type":"quantitative","axis":null},"y":{"field":"e","type":"quantitative","axis":null},"angle":{"field":"g","type":"quantitative","scale":null}}}
]},
{"data":{"values":[{"t":"21","row":2.35},{"t":"31","row":9},{"t":"28","row":17.35},{"t":"49","row":26.5},{"t":"53","row":39},{"t":"24","row":49.85},{"t":"30","row":57},{"t":"38","row":65.7},{"t":"34","row":75.35},{"t":"13","row":81},{"t":"12","row":85.35},{"t":"23","row":90.7},{"t":"38","row":98.5},{"t":"44","row":107.35},{"t":"21","row":115.35},{"t":"29","row":121.35},{"t":"33","row":128},{"t":"40","row":134.7}]},"mark":{"type":"text","fontSize":7.5,"color":"#333"},"encoding":{"x":{"datum":17.4,"type":"quantitative","axis":null},"y":{"field":"row","type":"quantitative","axis":null},"text":{"field":"t"}}},
{"data":{"values":[{"t":"indirect targets","col":9,"row":-13.5},{"t":"↓ mRNAs","col":9.3,"row":-4.65},{"t":"ntg","col":4.7,"row":145},{"t":"TG","col":13.2,"row":145}]},"mark":{"type":"text","fontSize":11,"color":"#111"},"encoding":{"x":{"field":"col","type":"quantitative","axis":null},"y":{"field":"row","type":"quantitative","axis":null},"text":{"field":"t"}}}
]},
{"width":100,"height":473,"layer":[
{"data":{"name":"cl"},"transform":[{"lookup":"c","from":{"data":{"name":"cols"},"key":"c","fields":["a","b"]}}],"mark":{"type":"rect","height":3,"opacity":0.92},"encoding":{"x":{"field":"a","type":"quantitative","axis":null,"scale":{"domain":[0,16],"range":[19.7,100],"nice":false,"zero":false}},"x2":{"field":"b"},"y":{"field":"r","type":"quantitative","axis":null,"scale":{"domain":[0,30],"range":[273.7,333.7],"nice":false,"zero":false}},"color":{"field":"v","type":"quantitative","scale":{"domain":[0,3,4,7,14],"range":["#0000ff","#6a70a4","#94946a","#ffff00","#ff1a00"]}}}},
{"data":{"name":"one"},"mark":{"type":"rule","stroke":"#fff","strokeWidth":1},"encoding":{"x":{"datum":9.56,"type":"quantitative","axis":null}}},
{"data":{"values":[{"t":"43","col":-1.47,"row":4},{"t":"33","col":-1.47,"row":21.15},{"t":"miR-499-5p","col":8.5,"row":-3.5},{"t":"miR-499-3p","col":8.3,"row":15.15}]},"mark":{"type":"text","fontSize":7.5,"color":"#333"},"encoding":{"x":{"field":"col","type":"quantitative","axis":null},"y":{"field":"row","type":"quantitative","axis":null},"text":{"field":"t"}}},
{"data":{"values":[{"t":"↓ mRNAs","col":8.5,"row":-11.5},{"t":"ntg","col":5,"row":31},{"t":"TG","col":13,"row":31}]},"mark":{"type":"text","fontSize":11,"color":"#111"},"encoding":{"x":{"field":"col","type":"quantitative","axis":null},"y":{"field":"row","type":"quantitative","axis":null},"text":{"field":"t"}}},
{"data":{"values":[{"t":"C","col":-1.1,"row":-36.3}]},"mark":{"type":"text","fontSize":21,"color":"#000"},"encoding":{"x":{"field":"col","type":"quantitative","axis":null},"y":{"field":"row","type":"quantitative","axis":null},"text":{"field":"t"}}}
]},
{"width":135,"height":473,"layer":[
{"data":{"name":"cm"},"mark":{"type":"rect","width":8,"height":14.3},"encoding":{"x":{"field":"i","type":"quantitative","axis":null,"scale":{"domain":[0,10],"range":[55.5,131.2],"nice":false,"zero":false}},"y":{"field":"m","type":"quantitative","axis":null,"scale":{"domain":[0,10],"range":[246.3,385.3],"nice":false,"zero":false}},"color":{"field":"v","type":"quantitative","scale":{"domain":[0,3,4,7,14],"range":["#0000ff","#6a70a4","#94946a","#ffff00","#ff1a00"]}}}},
{"data":{"name":"one"},"mark":{"type":"rule","stroke":"#fff","strokeWidth":1,"opacity":0.85},"encoding":{"x":{"datum":5.5,"type":"quantitative","axis":null},"y":{"datum":-0.5,"type":"quantitative","axis":null},"y2":{"datum":10.5}}},
{"data":{"values":[{"t":"miR-201-5p","m":0},{"t":"miR-455-3p","m":1},{"t":"miR-455-5p","m":2},{"t":"miR-34a-5p","m":3},{"t":"miR-547-3p","m":4},{"t":"miR-214-5p","m":5},{"t":"miR-34c-5p","m":6},{"t":"miR-222-3p","m":7},{"t":"miR-214-3p","m":8},{"t":"miR-221-3p","m":9},{"t":"miR-208b-3p","m":10}]},"mark":{"type":"text","fontSize":7.5,"align":"right","color":"#333"},"encoding":{"x":{"datum":-1.1,"type":"quantitative","axis":null},"y":{"field":"m","type":"quantitative","axis":null},"text":{"field":"t"}}},
{"data":{"name":"one"},"mark":{"type":"rule","stroke":"#000","strokeWidth":1.6},"encoding":{"x":{"datum":2.48,"type":"quantitative","axis":null},"x2":{"datum":-7.6},"y":{"datum":-3.18,"type":"quantitative","axis":null},"y2":{"datum":-0.43}}},
{"data":{"name":"one"},"mark":{"type":"point","shape":"M0,0L-0.55,1.2L0,0.6L0.55,1.2Z","filled":true,"color":"#000","opacity":1,"size":196,"angle":243.2},"encoding":{"x":{"datum":-7.99,"type":"quantitative","axis":null},"y":{"datum":-0.29,"type":"quantitative","axis":null}}},
{"data":{"name":"one"},"mark":{"type":"rule","stroke":"#000","strokeWidth":1.6},"encoding":{"x":{"datum":5.9,"type":"quantitative","axis":null},"y":{"datum":-2.55,"type":"quantitative","axis":null},"y2":{"datum":-1.9}}},
{"data":{"name":"one"},"mark":{"type":"point","shape":"M0,0L-0.55,1.2L0,0.6L0.55,1.2Z","filled":true,"color":"#000","opacity":1,"size":144,"angle":180},"encoding":{"x":{"datum":5.9,"type":"quantitative","axis":null},"y":{"datum":-1.72,"type":"quantitative","axis":null}}},
{"data":{"values":[{"t":"miR-499","col":6.02,"row":-3.18}]},"mark":{"type":"text","fontSize":11,"fontWeight":"bold","color":"#111"},"encoding":{"x":{"field":"col","type":"quantitative","axis":null},"y":{"field":"row","type":"quantitative","axis":null},"text":{"field":"t"}}},
{"data":{"values":[{"t":"miRs","col":5.97,"row":-1.24},{"t":"ntg","col":2.14,"row":11.2},{"t":"TG","col":7.33,"row":11.2}]},"mark":{"type":"text","fontSize":11,"color":"#111"},"encoding":{"x":{"field":"col","type":"quantitative","axis":null},"y":{"field":"row","type":"quantitative","axis":null},"text":{"field":"t"}}},
{"data":{"values":[{"t":"direct targets","col":-3,"row":-2.26}]},"mark":{"type":"text","fontSize":11.5,"angle":333,"color":"#111"},"encoding":{"x":{"field":"col","type":"quantitative","axis":null},"y":{"field":"row","type":"quantitative","axis":null},"text":{"field":"t"}}}
]},
{"width":140,"height":473,"layer":[
{"data":{"name":"cr"},"transform":[{"lookup":"c","from":{"data":{"name":"cols"},"key":"c","fields":["a","b"]}}],"mark":{"type":"rect","height":3,"opacity":0.92},"encoding":{"x":{"field":"a","type":"quantitative","axis":null,"scale":{"domain":[0,16],"range":[38,119],"nice":false,"zero":false}},"x2":{"field":"b"},"y":{"field":"r","type":"quantitative","axis":null,"scale":{"domain":[0,100],"range":[234.3,434.3],"nice":false,"zero":false}},"color":{"field":"v","type":"quantitative","scale":{"domain":[0,3,4,7,14],"range":["#0000ff","#6a70a4","#94946a","#ffff00","#ff1a00"]}}}},
{"data":{"name":"one"},"mark":{"type":"rule","stroke":"#fff","strokeWidth":1},"encoding":{"x":{"datum":9.6,"type":"quantitative","axis":null}}},
{"data":{"values":[{"s":6.2,"e":2.85,"g":78},{"s":13.35,"e":11.2,"g":82},{"s":20.2,"e":19.2,"g":86},{"s":27.5,"e":26.5,"g":86},{"s":33.7,"e":34.2,"g":92},{"s":41.2,"e":40.5,"g":87.5},{"s":48.5,"e":48.5,"g":90},{"s":54.5,"e":55.7,"g":94},{"s":62,"e":66.2,"g":105},{"s":68.7,"e":75,"g":111.5},{"s":75.7,"e":80.7,"g":107}]},"layer":[
{"mark":{"type":"rule","stroke":"#333","strokeWidth":0.8},"encoding":{"x":{"datum":-6.5,"type":"quantitative","axis":null},"x2":{"datum":-0.3},"y":{"field":"s","type":"quantitative","axis":null},"y2":{"field":"e"}}},
{"mark":{"type":"point","shape":"M-0.5,0.7L0,0L0.5,0.7","filled":false,"stroke":"#333","strokeWidth":0.8,"opacity":1,"size":100},"encoding":{"x":{"datum":-0.3,"type":"quantitative","axis":null},"y":{"field":"e","type":"quantitative","axis":null},"angle":{"field":"g","type":"quantitative","scale":null}}}
]},
{"data":{"values":[{"t":"40","row":2.85},{"t":"60","row":11},{"t":"37","row":18.5},{"t":"59","row":26.35},{"t":"29","row":34.2},{"t":"53","row":40.85},{"t":"58","row":48.85},{"t":"30","row":55.85},{"t":"133","row":65.2},{"t":"21","row":74.85},{"t":"19","row":80.2}]},"mark":{"type":"text","fontSize":7.5,"color":"#333"},"encoding":{"x":{"datum":18.2,"type":"quantitative","axis":null},"y":{"field":"row","type":"quantitative","axis":null},"text":{"field":"t"}}},
{"data":{"values":[{"t":"indirect targets","col":8.75,"row":-14.15},{"t":"↓ mRNAs","col":8.95,"row":-5.5},{"t":"ntg","col":5,"row":86.85},{"t":"TG","col":12.8,"row":86.85}]},"mark":{"type":"text","fontSize":11,"color":"#111"},"encoding":{"x":{"field":"col","type":"quantitative","axis":null},"y":{"field":"row","type":"quantitative","axis":null},"text":{"field":"t"}}}
]}
]}
